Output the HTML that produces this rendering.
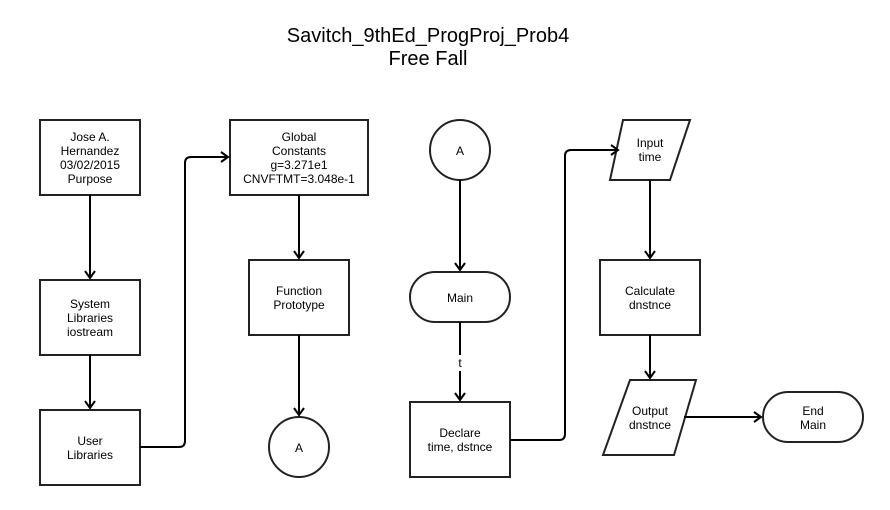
<!DOCTYPE html>
<html><head><style>body{margin:0;background:#fff}</style></head><body>
<svg width="890" height="505" xmlns="http://www.w3.org/2000/svg" font-family="Liberation Sans, Arial, sans-serif">
<defs><marker id="a" markerWidth="12" markerHeight="12" refX="9" refY="6" orient="auto" markerUnits="userSpaceOnUse"><path d="M2,1 L9,6 L2,11" fill="none" stroke="#000" stroke-width="2"/></marker></defs>
<text x="428" y="42" font-size="20" text-anchor="middle">Savitch_9thEd_ProgProj_Prob4</text>
<text x="428" y="65" font-size="20" text-anchor="middle">Free Fall</text>
<g fill="#fff" stroke="#222" stroke-width="2">
<rect x="40" y="120" width="100" height="75"/>
<rect x="40" y="280" width="100" height="75"/>
<rect x="40" y="410" width="100" height="75"/>
<rect x="230" y="120" width="138" height="75"/>
<rect x="249" y="260" width="100" height="75"/>
<circle cx="299" cy="447" r="30"/>
<circle cx="460" cy="150" r="30"/>
<rect x="410" y="272" width="100" height="50" rx="25"/>
<rect x="410" y="402" width="100" height="75"/>
<polygon points="623,120 690,120 670,180 610,180"/>
<rect x="600" y="260" width="100" height="75"/>
<polygon points="630,380 696,380 674,455 603,455"/>
<rect x="763" y="392" width="100" height="50" rx="25"/>
</g>
<g fill="none" stroke="#000" stroke-width="2" marker-end="url(#a)">
<path d="M90,195 V278"/>
<path d="M90,355 V408"/>
<path d="M140,447 H179 Q185,447 185,441 V163 Q185,157 191,157 H228"/>
<path d="M299,195 V258"/>
<path d="M299,335 V415"/>
<path d="M460,180 V270"/>
<path d="M460,322 V400"/>
<path d="M510,440 H559 Q565,440 565,434 V156 Q565,150 571,150 H618"/>
<path d="M650,180 V258"/>
<path d="M650,335 V378"/>
<path d="M684,417 H761"/>
</g>
<rect x="454" y="355" width="12" height="16" fill="#fff"/>
<g font-size="12" text-anchor="middle" fill="#000">
<text x="90" y="141">Jose A.</text><text x="90" y="155">Hernandez</text><text x="90" y="169">03/02/2015</text><text x="90" y="183">Purpose</text>
<text x="90" y="308">System</text><text x="90" y="322">Libraries</text><text x="90" y="336">iostream</text>
<text x="90" y="445">User</text><text x="90" y="459">Libraries</text>
<text x="299" y="141">Global</text><text x="299" y="155">Constants</text><text x="299" y="169">g=3.271e1</text><text x="299" y="183">CNVFTMT=3.048e-1</text>
<text x="299" y="295">Function</text><text x="299" y="309">Prototype</text>
<text x="299" y="452">A</text>
<text x="460" y="155">A</text>
<text x="460" y="302">Main</text>
<text x="460" y="367">t</text>
<text x="460" y="437">Declare</text><text x="460" y="451">time, dstnce</text>
<text x="650" y="147">Input</text><text x="650" y="161">time</text>
<text x="650" y="295">Calculate</text><text x="650" y="309">dnstnce</text>
<text x="650" y="415">Output</text><text x="650" y="429">dnstnce</text>
<text x="813" y="415">End</text><text x="813" y="429">Main</text>
</g>
</svg>
</body></html>
